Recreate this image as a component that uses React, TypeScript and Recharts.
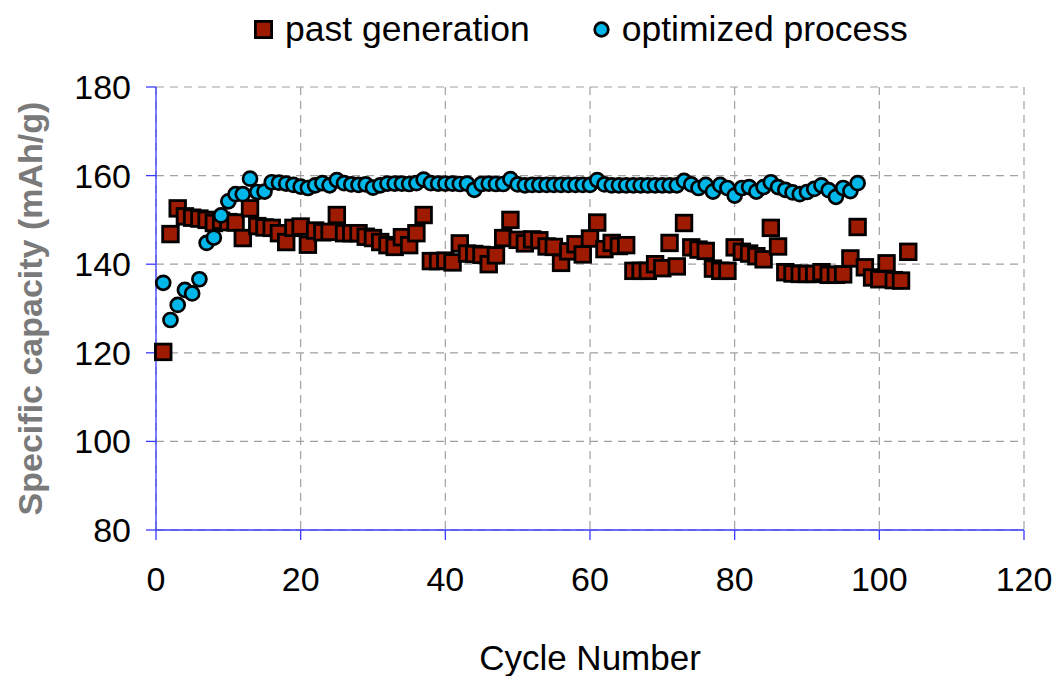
import React from 'react';
import { ScatterChart, Scatter, XAxis, YAxis, CartesianGrid, Legend } from 'recharts';

const pastGeneration: number[] = [
  120.2, 146.8, 152.6, 150.8, 150.5, 150.3, 150.0, 149.3, 149.8, 149.5,
  149.4, 145.9, 152.6, 148.6, 148.3, 148.2, 147.0, 145.0, 148.2, 148.5,
  144.4, 147.6, 147.2, 147.3, 151.1, 147.0, 147.0, 147.0, 146.2, 145.9,
  145.0, 144.3, 143.9, 146.1, 144.3, 147.0, 151.1, 140.7, 140.7, 140.8,
  140.4, 144.7, 142.4, 142.3, 142.1, 140.0, 142.0, 145.9, 150.0, 145.5,
  144.7, 145.6, 145.4, 144.0, 143.9, 140.3, 142.9, 144.5, 142.2, 145.8,
  149.4, 143.4, 144.8, 144.1, 144.3, 138.5, 138.5, 138.5, 140.0, 139.1,
  144.8, 139.5, 149.3, 143.8, 143.3, 143.0, 139.0, 138.5, 138.5, 143.8,
  142.8, 142.4, 141.8, 141.1, 148.2, 144.0, 138.2, 137.9, 137.8, 137.8,
  137.8, 138.2, 137.6, 137.6, 137.7, 141.3, 148.4, 139.3, 137.0, 136.6,
  140.2, 136.4, 136.3, 142.8,
];

const optimizedProcess: number[] = [
  135.8, 127.4, 130.8, 134.2, 133.4, 136.6, 144.8, 146.0, 151.0, 154.2,
  155.8, 155.8, 159.3, 156.3, 156.4, 158.5, 158.4, 158.2, 157.9, 157.5,
  157.2, 157.8, 158.3, 157.8, 159.0, 158.3, 158.0, 157.9, 158.0, 157.3,
  157.8, 158.2, 158.2, 158.2, 158.1, 158.3, 159.1, 158.3, 158.2, 158.2,
  158.2, 158.1, 158.2, 156.8, 158.1, 158.2, 158.1, 158.1, 159.2, 158.0,
  157.8, 157.9, 157.9, 157.9, 157.9, 157.9, 157.9, 157.9, 157.9, 157.9,
  159.0, 158.0, 157.8, 157.8, 157.8, 157.8, 157.8, 157.8, 157.8, 157.8,
  157.8, 157.8, 158.8, 158.0, 157.2, 157.9, 156.4, 157.9, 157.2, 155.5,
  157.2, 157.4, 156.4, 157.4, 158.5, 157.4, 156.8, 156.2, 155.8, 156.3,
  157.0, 157.8, 156.7, 155.2, 157.2, 156.5, 158.3,
];

const xTicks = [0, 20, 40, 60, 80, 100, 120];
const yTicks = [80, 100, 120, 140, 160, 180];

const seriesNames = { past: 'past generation', optimized: 'optimized process' };

const pastData = pastGeneration.map((v, i) => ({ cycle: i + 1, capacity: v }));
const optData = optimizedProcess.map((v, i) => ({ cycle: i + 1, capacity: v }));

const FONT = '"Liberation Sans", Arial, sans-serif';
const AXIS_BLUE = '#3a3aff';
const RED = '#9E1A00';
const CYAN = '#00B7EA';

const SquareShape = (p: any) => (
  <rect x={p.cx - 7.8} y={p.cy - 7.8} width={15.6} height={15.6} fill={RED} stroke="#000" strokeWidth={2.8} />
);
const CircleShape = (p: any) => (
  <circle cx={p.cx} cy={p.cy} r={7} fill={CYAN} stroke="#000" strokeWidth={2.7} />
);

const LegendContent = () => (
  <div
    style={{
      display: 'flex',
      alignItems: 'center',
      fontFamily: FONT,
      fontSize: 35.5,
      lineHeight: '40px',
      color: '#000',
      paddingLeft: 254,
      whiteSpace: 'nowrap',
    }}
  >
    <svg width={19} height={19} style={{ display: 'block' }}>
      <rect x={1.4} y={1.4} width={16.2} height={16.2} fill={RED} stroke="#000" strokeWidth={2.8} />
    </svg>
    <span style={{ marginLeft: 12 }}>{seriesNames.past}</span>
    <svg width={17} height={17} style={{ display: 'block', marginLeft: 63 }}>
      <circle cx={8.5} cy={8.5} r={6.8} fill={CYAN} stroke="#000" strokeWidth={2.7} />
    </svg>
    <span style={{ marginLeft: 12 }}>{seriesNames.optimized}</span>
  </div>
);

const YLabel = (props: any) => {
  const vb = props.viewBox || {};
  const cx = 30;
  const cy = vb.y + vb.height / 2;
  return (
    <text
      x={cx}
      y={cy}
      transform={`rotate(-90 ${cx} ${cy})`}
      textAnchor="middle"
      dominantBaseline="central"
      fontFamily={FONT}
      fontSize={34}
      fontWeight="bold"
      fill="#7a7a7a"
    >
      Specific capacity (mAh/g)
    </text>
  );
};

const XLabel = (props: any) => {
  const vb = props.viewBox || {};
  const cx = vb.x + vb.width / 2;
  return (
    <text x={cx} y={vb.y + 140} textAnchor="middle" fontFamily={FONT} fontSize={35} fill="#000">
      Cycle Number
    </text>
  );
};

export default function App() {
  return (
    <div style={{ position: 'absolute', left: 0, top: 0, width: 1057, height: 676, background: '#fff' }}>
      <ScatterChart width={1057} height={676} margin={{ top: 87, right: 33, bottom: 86, left: 0 }}>
        <CartesianGrid stroke="#a0a0a0" strokeDasharray="8 6" strokeWidth={1.2} />
        <XAxis
          type="number"
          dataKey="cycle"
          domain={[0, 120]}
          ticks={xTicks}
          interval={0}
          height={60}
          axisLine={{ stroke: AXIS_BLUE, strokeWidth: 1.3 }}
          tickLine={{ stroke: AXIS_BLUE, strokeWidth: 1.3 }}
          tickSize={10}
          tickMargin={27}
          tick={{ fontSize: 34, fill: '#000', fontFamily: FONT }}
          label={<XLabel />}
        />
        <YAxis
          type="number"
          dataKey="capacity"
          domain={[80, 180]}
          ticks={yTicks}
          interval={0}
          width={156}
          axisLine={{ stroke: AXIS_BLUE, strokeWidth: 1.3 }}
          tickLine={{ stroke: AXIS_BLUE, strokeWidth: 1.3 }}
          tickSize={10}
          tickMargin={15}
          tick={{ fontSize: 34, fill: '#000', fontFamily: FONT }}
          label={<YLabel />}
        />
        <Legend
          layout="horizontal"
          verticalAlign="middle"
          align="center"
          content={<LegendContent />}
          wrapperStyle={{ position: 'absolute', top: 9, left: 0, width: 1057, height: 40 }}
        />
        <Scatter name={seriesNames.past} data={pastData} shape={SquareShape} isAnimationActive={false} />
        <Scatter name={seriesNames.optimized} data={optData} shape={CircleShape} isAnimationActive={false} />
      </ScatterChart>
    </div>
  );
}
